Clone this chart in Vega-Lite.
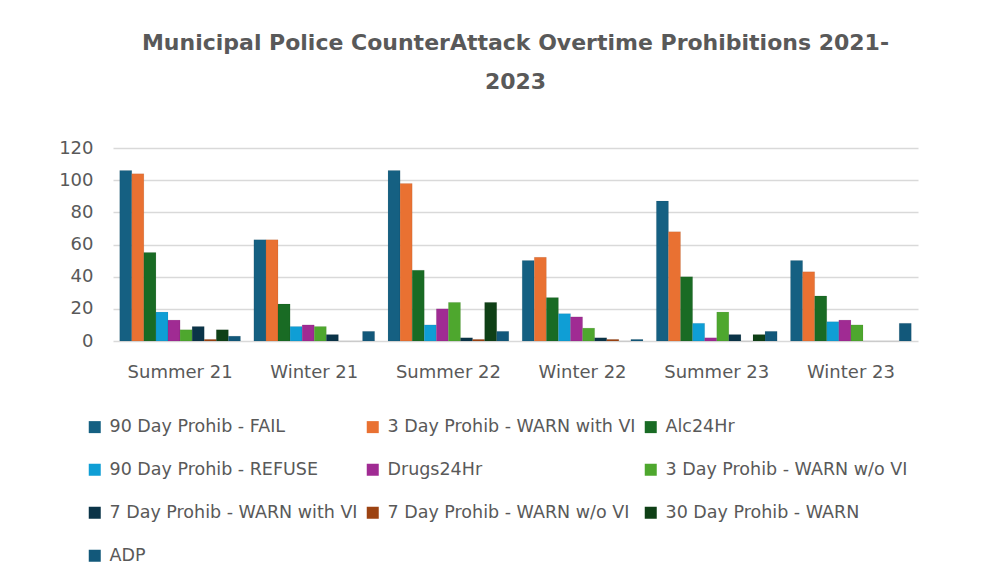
{
  "$schema": "https://vega.github.io/schema/vega-lite/v6.json",
  "autosize": {"type": "none"},
  "width": 805,
  "height": 193,
  "padding": {"left": 113, "top": 148, "right": 74, "bottom": 244},
  "background": "white",
  "title": {
    "text": ["Municipal Police CounterAttack Overtime Prohibitions 2021-", "2023"],
    "anchor": "middle",
    "font": "DejaVu Sans",
    "fontSize": 22,
    "fontWeight": "bold",
    "color": "#595959",
    "lineHeight": 39,
    "offset": 45
  },
  "data": {
    "values": [
      {"period": "Summer 21", "series": "90 Day Prohib - FAIL", "value": 106},
      {"period": "Summer 21", "series": "3 Day Prohib - WARN with VI", "value": 104},
      {"period": "Summer 21", "series": "Alc24Hr", "value": 55},
      {"period": "Summer 21", "series": "90 Day Prohib - REFUSE", "value": 18},
      {"period": "Summer 21", "series": "Drugs24Hr", "value": 13},
      {"period": "Summer 21", "series": "3 Day Prohib - WARN w/o VI", "value": 7},
      {"period": "Summer 21", "series": "7 Day Prohib - WARN with VI", "value": 9},
      {"period": "Summer 21", "series": "7 Day Prohib - WARN w/o VI", "value": 1},
      {"period": "Summer 21", "series": "30 Day Prohib - WARN", "value": 7},
      {"period": "Summer 21", "series": "ADP", "value": 3},
      {"period": "Winter 21", "series": "90 Day Prohib - FAIL", "value": 63},
      {"period": "Winter 21", "series": "3 Day Prohib - WARN with VI", "value": 63},
      {"period": "Winter 21", "series": "Alc24Hr", "value": 23},
      {"period": "Winter 21", "series": "90 Day Prohib - REFUSE", "value": 9},
      {"period": "Winter 21", "series": "Drugs24Hr", "value": 10},
      {"period": "Winter 21", "series": "3 Day Prohib - WARN w/o VI", "value": 9},
      {"period": "Winter 21", "series": "7 Day Prohib - WARN with VI", "value": 4},
      {"period": "Winter 21", "series": "7 Day Prohib - WARN w/o VI", "value": 0},
      {"period": "Winter 21", "series": "30 Day Prohib - WARN", "value": 0},
      {"period": "Winter 21", "series": "ADP", "value": 6},
      {"period": "Summer 22", "series": "90 Day Prohib - FAIL", "value": 106},
      {"period": "Summer 22", "series": "3 Day Prohib - WARN with VI", "value": 98},
      {"period": "Summer 22", "series": "Alc24Hr", "value": 44},
      {"period": "Summer 22", "series": "90 Day Prohib - REFUSE", "value": 10},
      {"period": "Summer 22", "series": "Drugs24Hr", "value": 20},
      {"period": "Summer 22", "series": "3 Day Prohib - WARN w/o VI", "value": 24},
      {"period": "Summer 22", "series": "7 Day Prohib - WARN with VI", "value": 2},
      {"period": "Summer 22", "series": "7 Day Prohib - WARN w/o VI", "value": 1},
      {"period": "Summer 22", "series": "30 Day Prohib - WARN", "value": 24},
      {"period": "Summer 22", "series": "ADP", "value": 6},
      {"period": "Winter 22", "series": "90 Day Prohib - FAIL", "value": 50},
      {"period": "Winter 22", "series": "3 Day Prohib - WARN with VI", "value": 52},
      {"period": "Winter 22", "series": "Alc24Hr", "value": 27},
      {"period": "Winter 22", "series": "90 Day Prohib - REFUSE", "value": 17},
      {"period": "Winter 22", "series": "Drugs24Hr", "value": 15},
      {"period": "Winter 22", "series": "3 Day Prohib - WARN w/o VI", "value": 8},
      {"period": "Winter 22", "series": "7 Day Prohib - WARN with VI", "value": 2},
      {"period": "Winter 22", "series": "7 Day Prohib - WARN w/o VI", "value": 1},
      {"period": "Winter 22", "series": "30 Day Prohib - WARN", "value": 0},
      {"period": "Winter 22", "series": "ADP", "value": 1},
      {"period": "Summer 23", "series": "90 Day Prohib - FAIL", "value": 87},
      {"period": "Summer 23", "series": "3 Day Prohib - WARN with VI", "value": 68},
      {"period": "Summer 23", "series": "Alc24Hr", "value": 40},
      {"period": "Summer 23", "series": "90 Day Prohib - REFUSE", "value": 11},
      {"period": "Summer 23", "series": "Drugs24Hr", "value": 2},
      {"period": "Summer 23", "series": "3 Day Prohib - WARN w/o VI", "value": 18},
      {"period": "Summer 23", "series": "7 Day Prohib - WARN with VI", "value": 4},
      {"period": "Summer 23", "series": "7 Day Prohib - WARN w/o VI", "value": 0},
      {"period": "Summer 23", "series": "30 Day Prohib - WARN", "value": 4},
      {"period": "Summer 23", "series": "ADP", "value": 6},
      {"period": "Winter 23", "series": "90 Day Prohib - FAIL", "value": 50},
      {"period": "Winter 23", "series": "3 Day Prohib - WARN with VI", "value": 43},
      {"period": "Winter 23", "series": "Alc24Hr", "value": 28},
      {"period": "Winter 23", "series": "90 Day Prohib - REFUSE", "value": 12},
      {"period": "Winter 23", "series": "Drugs24Hr", "value": 13},
      {"period": "Winter 23", "series": "3 Day Prohib - WARN w/o VI", "value": 10},
      {"period": "Winter 23", "series": "7 Day Prohib - WARN with VI", "value": 0},
      {"period": "Winter 23", "series": "7 Day Prohib - WARN w/o VI", "value": 0},
      {"period": "Winter 23", "series": "30 Day Prohib - WARN", "value": 0},
      {"period": "Winter 23", "series": "ADP", "value": 11}
    ]
  },
  "mark": {"type": "bar", "stroke": "#00000022", "strokeWidth": 0.5},
  "encoding": {
    "x": {
      "field": "period",
      "type": "nominal",
      "sort": ["Summer 21", "Winter 21", "Summer 22", "Winter 22", "Summer 23", "Winter 23"],
      "scale": {"paddingInner": 0.1, "paddingOuter": 0.05},
      "axis": {
        "title": null,
        "labelAngle": 0,
        "labelFont": "DejaVu Sans",
        "labelFontSize": 18,
        "labelColor": "#595959",
        "labelPadding": 22,
        "domain": false,
        "ticks": false
      }
    },
    "xOffset": {
      "field": "series",
      "type": "nominal",
      "sort": ["90 Day Prohib - FAIL", "3 Day Prohib - WARN with VI", "Alc24Hr", "90 Day Prohib - REFUSE", "Drugs24Hr", "3 Day Prohib - WARN w/o VI", "7 Day Prohib - WARN with VI", "7 Day Prohib - WARN w/o VI", "30 Day Prohib - WARN", "ADP"],
      "scale": {"paddingInner": 0}
    },
    "y": {
      "field": "value",
      "type": "quantitative",
      "scale": {"domain": [0, 120]},
      "axis": {
        "title": null,
        "values": [0, 20, 40, 60, 80, 100, 120],
        "labelFont": "DejaVu Sans",
        "labelFontSize": 18,
        "labelColor": "#595959",
        "labelPadding": 20,
        "domain": false,
        "ticks": false,
        "gridColor": "#d9d9d9",
        "gridWidth": 1.5
      }
    },
    "color": {
      "field": "series",
      "type": "nominal",
      "scale": {
        "domain": ["90 Day Prohib - FAIL", "3 Day Prohib - WARN with VI", "Alc24Hr", "90 Day Prohib - REFUSE", "Drugs24Hr", "3 Day Prohib - WARN w/o VI", "7 Day Prohib - WARN with VI", "7 Day Prohib - WARN w/o VI", "30 Day Prohib - WARN", "ADP"],
        "range": ["#156082", "#E97132", "#196B24", "#0F9ED5", "#A02B93", "#4EA72E", "#0B3448", "#9C4312", "#0F4016", "#12587A"]
      },
      "legend": {
        "title": null,
        "orient": "none",
        "legendX": -27,
        "legendY": 270,
        "columns": 3,
        "direction": "horizontal",
        "symbolType": "square",
        "symbolSize": 144,
        "symbolStrokeWidth": 0,
        "labelFont": "DejaVu Sans",
        "labelFontSize": 17.5,
        "labelColor": "#595959",
        "labelLimit": 400,
        "labelOffset": 6,
        "rowPadding": 24,
        "columnPadding": 6
      }
    }
  },
  "config": {"view": {"stroke": null}}
}
